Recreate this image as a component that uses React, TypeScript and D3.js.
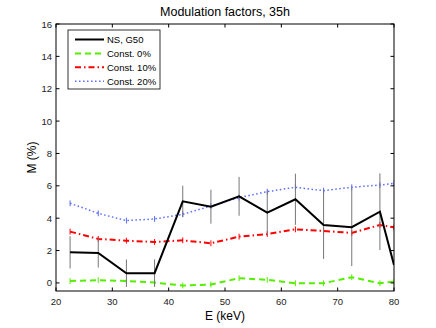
import React from "react";
import * as d3 from "d3";

const energy = [22.5, 27.5, 32.5, 37.5, 42.5, 47.5, 52.5, 57.5, 62.5, 67.5, 72.5, 77.5, 80];
const nsG50 = [1.89, 1.85, 0.6, 0.6, 5.04, 4.71, 5.35, 4.34, 5.17, 3.58, 3.44, 4.4, 1.11];
const nsG50Err = [1.0, 0.9, 0.85, 0.85, 0.97, 1.05, 1.2, 1.37, 1.58, 2.1, 2.4, 2.37, 0];
const const0 = [0.12, 0.17, 0.12, 0.02, -0.16, -0.1, 0.29, 0.19, -0.02, -0.02, 0.35, -0.02, 0.08];
const const10 = [3.17, 2.72, 2.61, 2.53, 2.63, 2.45, 2.86, 3.02, 3.31, 3.21, 3.09, 3.58, 3.44];
const const20 = [4.92, 4.3, 3.85, 3.95, 4.24, 4.75, 5.27, 5.64, 5.91, 5.7, 5.91, 6.05, 6.15];
const constErr = 0.18;

const xTicks = [20, 30, 40, 50, 60, 70, 80];
const yTicks = [0, 2, 4, 6, 8, 10, 12, 14, 16];

const series = [
  { name: "NS, G50", values: nsG50, color: "#000", width: 2, dash: "" },
  { name: "Const. 0%", values: const0, color: "#55ee00", width: 2, dash: "6,4" },
  { name: "Const. 10%", values: const10, color: "#ff0000", width: 2, dash: "6,3,1.5,3" },
  { name: "Const. 20%", values: const20, color: "#5a6cff", width: 1.5, dash: "1.5,2.5" },
];

export default function App() {
  const left = 56, right = 394, top = 24, bottom = 291;
  const font = "'Liberation Sans', Arial, sans-serif";

  const x = d3.scaleLinear().domain([20, 80]).range([left, right]);
  const y = d3.scaleLinear().domain([-0.5, 16]).range([bottom, top]);

  const line = (vals: number[]) =>
    d3.line<number>()
      .x((_, i) => x(energy[i]))
      .y(d => y(d))(vals) || "";

  const tick = 3.5;

  return (
    <svg width={436} height={328} style={{ position: "absolute", left: 0, top: 0, background: "#fff" }}>
      <defs>
        <clipPath id="plot">
          <rect x={left} y={top} width={right - left} height={bottom - top} />
        </clipPath>
      </defs>
      <rect x={0} y={0} width={436} height={328} fill="#fff" />

      <g clipPath="url(#plot)">
        {/* const series with small error bars */}
        {series.slice(1).map(s => (
          <g key={s.name}>
            <path d={line(s.values)} fill="none" stroke={s.color} strokeWidth={s.width} strokeDasharray={s.dash} />
            {s.values.map((v, i) => (
              <line key={i} x1={x(energy[i])} x2={x(energy[i])} y1={y(v - constErr)} y2={y(v + constErr)}
                stroke={s.color} strokeWidth={1} />
            ))}
          </g>
        ))}
        {/* NS error bars */}
        {nsG50.map((v, i) => (
          <line key={i} x1={x(energy[i])} x2={x(energy[i])} y1={y(v - nsG50Err[i])} y2={y(v + nsG50Err[i])}
            stroke="#777" strokeWidth={1} />
        ))}
        <path d={line(nsG50)} fill="none" stroke="#000" strokeWidth={2} />
      </g>

      {/* axes box with inward ticks */}
      <rect x={left} y={top} width={right - left} height={bottom - top} fill="none" stroke="#000" strokeWidth={1} />
      {xTicks.map(t => (
        <g key={t}>
          <line x1={x(t)} x2={x(t)} y1={bottom} y2={bottom - tick} stroke="#000" />
          <line x1={x(t)} x2={x(t)} y1={top} y2={top + tick} stroke="#000" />
          <text x={x(t)} y={305} textAnchor="middle" fontSize={9.5} fontFamily={font} fill="#222">{t}</text>
        </g>
      ))}
      {yTicks.map(t => (
        <g key={t}>
          <line x1={left} x2={left + tick} y1={y(t)} y2={y(t)} stroke="#000" />
          <line x1={right} x2={right - tick} y1={y(t)} y2={y(t)} stroke="#000" />
          <text x={left - 4} y={y(t) + 3.5} textAnchor="end" fontSize={9.5} fontFamily={font} fill="#222">{t}</text>
        </g>
      ))}

      {/* legend */}
      <g>
        <rect x={68} y={30} width={92} height={59} fill="#fff" stroke="#000" strokeWidth={0.8} />
        {series.map((s, i) => {
          const ly = 39.5 + i * 13.9;
          return (
            <g key={s.name}>
              <line x1={75} x2={104} y1={ly} y2={ly} stroke={s.color} strokeWidth={s.width} strokeDasharray={s.dash} />
              <text x={107} y={ly + 3.5} fontSize={9.5} fontFamily={font} fill="#000">{s.name}</text>
            </g>
          );
        })}
      </g>

      <text x={(left + right) / 2} y={16} textAnchor="middle" fontSize={12.5} fontFamily={font} fill="#000">
        Modulation factors, 35h
      </text>
      <text x={(left + right) / 2} y={320} textAnchor="middle" fontSize={12} fontFamily={font} fill="#000">
        E (keV)
      </text>
      <text transform={`translate(36,${(top + bottom) / 2}) rotate(-90)`} textAnchor="middle" fontSize={12}
        fontFamily={font} fill="#000">
        M (%)
      </text>
    </svg>
  );
}
